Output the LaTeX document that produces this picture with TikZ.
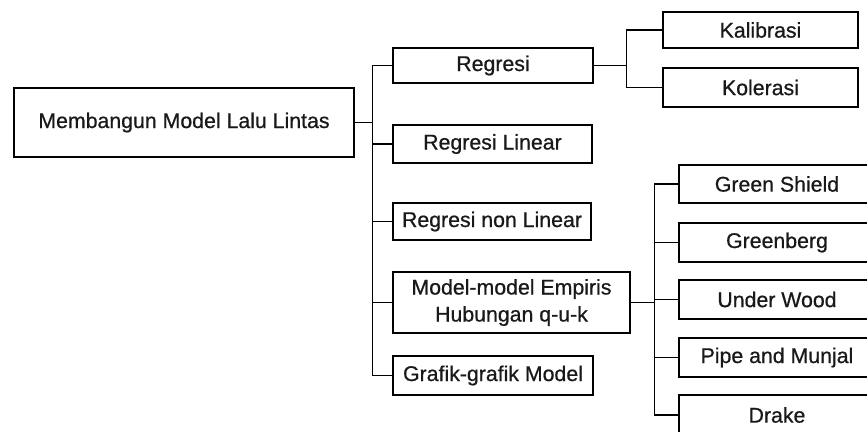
\documentclass[tikz,border=0pt]{standalone}
\usepackage{fontspec}
\setmainfont{Liberation Sans}
\newfontfamily\diafont[FakeBold=0.7]{Liberation Sans}
\begin{document}
\begin{tikzpicture}[x=1pt,y=-1pt,
  box/.style={draw, line width=1.1pt, inner sep=0pt, align=center,
    font=\diafont\fontsize{21.3}{27}\selectfont, text=black!90},
  link/.style={line width=1.1pt}]
\useasboundingbox (0,0) rectangle (867,431);
\clip (0,0) rectangle (867,431);
\node[box, minimum width=340, minimum height=69] (root) at (184,122.5) {Membangun Model Lalu Lintas};
\node[box, minimum width=200, minimum height=35] (reg) at (493,65.5) {Regresi};
\node[box, minimum width=199, minimum height=38] (rlin) at (492.5,144) {Regresi Linear};
\node[box, minimum width=198, minimum height=37] (rnon) at (492,221.5) {Regresi non Linear};
\node[box, minimum width=237, minimum height=61] (emp) at (511.5,302.5) {Model-model Empiris\\Hubungan q-u-k};
\node[box, minimum width=200, minimum height=39] (graf) at (493,375.5) {Grafik-grafik Model};
\node[box, minimum width=195, minimum height=36] (kal) at (760.5,30) {Kalibrasi};
\node[box, minimum width=195, minimum height=39] (kol) at (760.5,87.5) {Kolerasi};
\node[box, minimum width=196, minimum height=38] (gs) at (777,184) {Green Shield};
\node[box, minimum width=196, minimum height=39] (gb) at (777,242.5) {Greenberg};
\node[box, minimum width=196, minimum height=39] (uw) at (777,299.5) {Under Wood};
\node[box, minimum width=196, minimum height=39] (pm) at (777,357.5) {Pipe and Munjal};
\node[box, minimum width=196, minimum height=40] (dr) at (777,415) {Drake};
% main trunk
\draw[link] (reg.west) -- ++(-20,0) coordinate (ta) |- (graf.west);
\draw[link] (root.east) -- (root.east -| ta);
\draw[link] (rlin.west) -- (rlin.west -| ta);
\draw[link] (rnon.west) -- (rnon.west -| ta);
\draw[link] (emp.west) -- (emp.west -| ta);
% regresi branch
\draw[link] (kal.west) -- ++(-36,0) coordinate (tb) |- (kol.west);
\draw[link] (reg.east) -- (reg.east -| tb);
% empiris branch
\draw[link] (gs.west) -- ++(-24,0) coordinate (tc) |- (dr.west);
\draw[link] (emp.east) -- (emp.east -| tc);
\draw[link] (gb.west) -- (gb.west -| tc);
\draw[link] (uw.west) -- (uw.west -| tc);
\draw[link] (pm.west) -- (pm.west -| tc);
\end{tikzpicture}
\end{document}
